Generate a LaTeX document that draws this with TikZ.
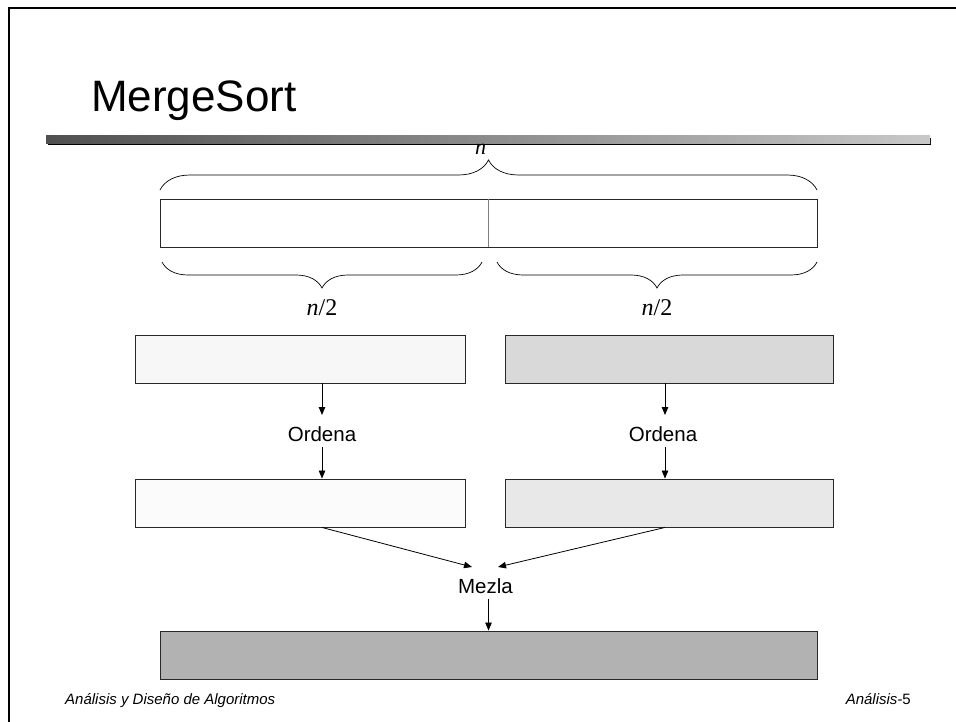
\documentclass[tikz,border=0pt]{standalone}
\usepackage{fontspec}
\setmainfont{Liberation Sans}
\newfontfamily\serifit{Liberation Serif}
\usetikzlibrary{arrows.meta,decorations.pathreplacing}
\definecolor{barL}{RGB}{80,80,80}
\definecolor{barR}{RGB}{200,200,200}
\definecolor{fillAa}{RGB}{247,247,247}
\definecolor{fillAb}{RGB}{217,217,217}
\definecolor{fillBa}{RGB}{251,251,251}
\definecolor{fillBb}{RGB}{232,232,232}
\definecolor{fillC}{RGB}{178,178,178}
\definecolor{edge}{RGB}{40,40,40}
\tikzset{
  box/.style={draw=edge, line width=0.9pt, rectangle, inner sep=0pt, minimum height=48pt},
  arr/.style={draw=black, line width=0.8pt, -{Triangle[length=8pt,width=6.5pt]}},
  lbl/.style={font=\fontsize{20.5}{24}\selectfont, inner sep=0pt, anchor=base},
  mth/.style={font=\fontsize{24}{28}\selectfont\serifit, inner sep=0pt, anchor=base},
  brc/.style={decorate, line width=0.7pt},
  foot/.style={font=\fontsize{15}{18}\selectfont, inner sep=0pt}
}
\begin{document}
\begin{tikzpicture}[x=1pt,y=-1pt]
\useasboundingbox (0,0) rectangle (956,722);
% slide frame
\draw[line width=2.2pt] (9,722) -- (9,8) -- (956,8);
% title
\node[font=\fontsize{44}{50}\selectfont, inner sep=0pt, anchor=base west] (title) at (91,112) {MergeSort};
% title rule
\fill[black] (48,138) rectangle (931,145.5);
\shade[left color=barL, right color=barR] (46,136) rectangle (930,143.5);
% top box
\node[box, minimum width=657pt] (top) at (488.5,223) {};
\draw[gray, line width=0.9pt] (top.north) -- (top.south);
% braces
\draw[brc, decoration={brace, amplitude=30pt}] (160,190) -- (817,190);
\node[mth, font=\fontsize{22}{26}\selectfont\serifit\itshape] (n) at (480.5,155) {n};
\draw[brc, decoration={brace, amplitude=26pt}] (482,262) -- (162,262);
\draw[brc, decoration={brace, amplitude=26pt}] (817,262) -- (497,262);
\node[mth] (hl) at (322,315) {{\itshape n}/2};
\node[mth] (hr) at (657,315) {{\itshape n}/2};
% second row
\node[box, fill=fillAa, minimum width=330pt] (L2) at (300,359) {};
\node[box, fill=fillAb, minimum width=328pt] (R2) at (669,359) {};
% Ordena labels
\node[lbl] (oL) at (322,441) {Ordena};
\node[lbl] (oR) at (663,441) {Ordena};
% third row
\node[box, fill=fillBa, minimum width=330pt] (L3) at (300,503) {};
\node[box, fill=fillBb, minimum width=328pt] (R3) at (669,503) {};
% arrows Ordena
\draw[arr] (L2.south -| oL.base) -- ([yshift=26pt]oL.base);
\draw[arr] ([yshift=-6pt]oL.base) -- (L3.north -| oL.base);
\draw[arr] ([xshift=2pt]R2.south -| oR.base) -- ([xshift=2pt,yshift=26pt]oR.base);
\draw[arr] ([xshift=2pt,yshift=-6pt]oR.base) -- ([xshift=2pt]R3.north -| oR.base);
% Mezla
\node[lbl] (mz) at (485.5,593) {Mezla};
\node[box, fill=fillC, minimum width=657pt] (bot) at (488.5,655) {};
\draw[arr] (L3.south -| oL.base) -- ([xshift=-13.5pt,yshift=26pt]mz.base);
\draw[arr] ([xshift=2pt]R3.south -| oR.base) -- ([xshift=12.5pt,yshift=26pt]mz.base);
\draw[arr] ([xshift=3pt,yshift=-6pt]mz.base) -- (bot.north);
% footer
\node[foot, anchor=base west] (fl) at (65,704) {\itshape Análisis y Diseño de Algoritmos};
\node[foot, anchor=base east] (fr) at (911,704) {\textit{Análisis-}5};
\end{tikzpicture}
\end{document}
